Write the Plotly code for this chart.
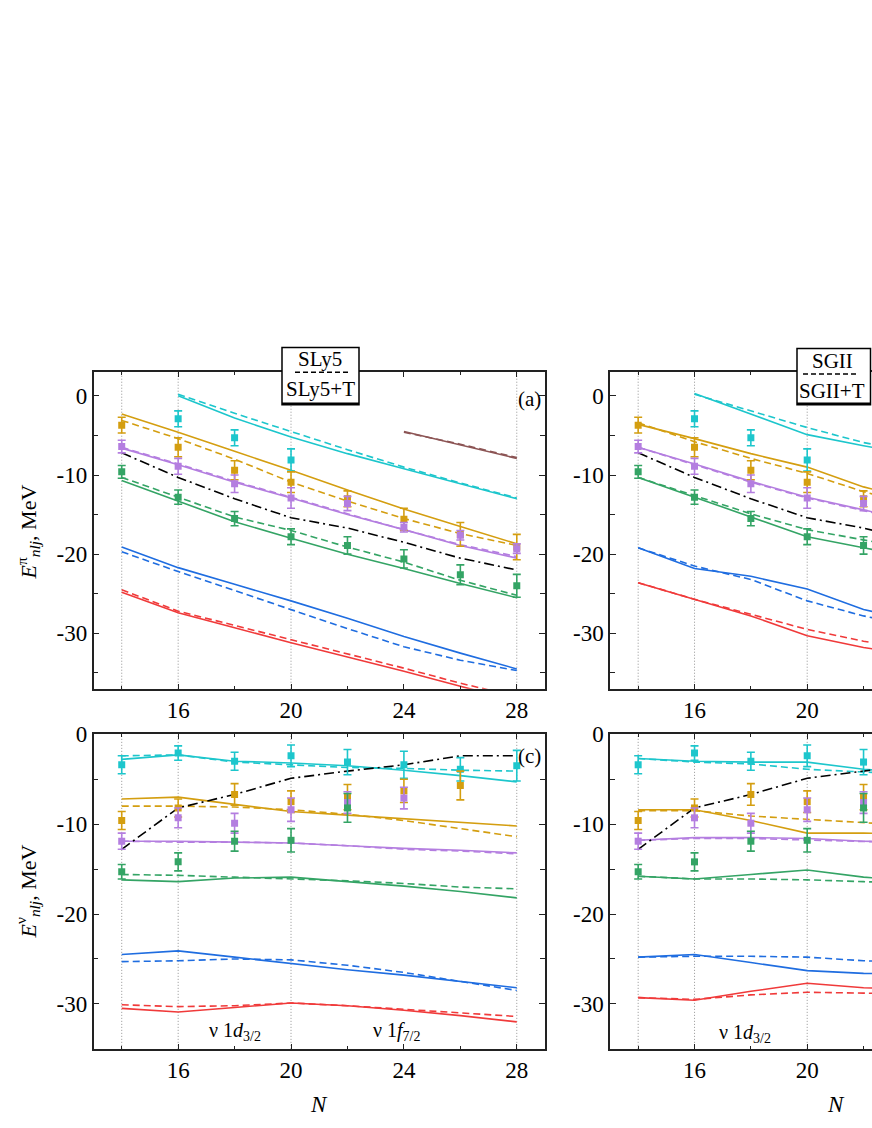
import plotly.graph_objects as go

FONT = '"Liberation Serif", "Times New Roman", Times, serif'

# neutron numbers
N_all = [14, 16, 18, 20, 22, 24, 26, 28]
N_cyan = [16, 18, 20, 22, 24, 26, 28]
N_brown = [24, 26, 28]
N_right = [14, 16, 18, 20, 22, 24]
N_right_cyan = [16, 18, 20, 22, 24]
magic_numbers = [14, 16, 20, 28]

# tick labels
x_tickvals = [16, 20, 24, 28]
x_ticktext = ["16", "20", "24", "28"]
y_tickvals = [-30, -20, -10, 0]
y_ticktext = ["-30", "-20", "-10", "0"]

# colours of the levels
c_cyan = "#1dc6cc"
c_gold = "#d49e10"
c_purple = "#b47ee0"
c_green = "#34a465"
c_blue = "#1f6de0"
c_red = "#f03a3a"
c_brown = "#8c5555"

# ---- (a) protons, SLy5 (dashed) / SLy5+T (solid)
a_cyan_T = [0.0, -2.8, -5.2, -7.3, -9.2, -11.1, -13.0]
a_cyan = [0.2, -2.2, -4.5, -6.8, -9.0, -11.0, -12.9]
a_gold_T = [-2.3, -4.6, -7.0, -9.4, -11.9, -14.3, -16.5, -18.7]
a_gold = [-3.1, -5.4, -8.0, -10.9, -13.3, -15.5, -17.4, -18.9]
a_purple_T = [-6.6, -8.7, -10.9, -12.9, -15.0, -16.9, -18.9, -20.5]
a_purple = [-6.5, -8.6, -10.8, -12.8, -14.9, -16.9, -18.8, -20.3]
a_green_T = [-10.7, -13.3, -15.9, -18.0, -20.0, -21.8, -23.7, -25.5]
a_green = [-10.3, -12.8, -15.3, -17.0, -19.1, -21.0, -23.3, -25.2]
a_blue_T = [-19.1, -21.7, -23.8, -25.9, -28.1, -30.4, -32.5, -34.5]
a_blue = [-19.7, -22.2, -24.6, -27.0, -29.4, -31.7, -33.4, -34.7]
a_red_T = [-24.8, -27.4, -29.3, -31.2, -33.0, -34.8, -36.7, -38.5]
a_red = [-24.5, -27.2, -29.0, -30.8, -32.6, -34.4, -36.3, -38.0]
a_brown_T = [-4.5, -6.2, -7.9]
a_brown = [-4.6, -6.1, -7.8]

# ---- (b) protons, SGII (dashed) / SGII+T (solid)
b_cyan_T = [0.3, -2.3, -4.9, -6.3, -7.6]
b_cyan = [0.2, -1.9, -4.0, -5.9, -7.2]
b_gold_T = [-3.6, -5.4, -7.3, -9.0, -11.5, -13.3]
b_gold = [-3.4, -5.8, -7.9, -9.8, -12.1, -14.0]
b_purple_T = [-6.5, -8.6, -10.8, -12.8, -14.4, -16.0]
b_purple = [-6.5, -8.7, -10.9, -12.9, -14.5, -16.1]
b_green_T = [-10.3, -12.8, -15.3, -17.8, -19.2, -20.5]
b_green = [-10.3, -12.6, -14.9, -16.9, -18.2, -19.5]
b_blue_T = [-19.2, -21.8, -22.8, -24.4, -27.0, -28.5]
b_blue = [-19.2, -21.5, -23.2, -25.9, -27.8, -29.3]
b_red_T = [-23.6, -25.7, -27.8, -30.3, -31.8, -32.8]
b_red = [-23.6, -25.7, -27.6, -29.5, -31.0, -32.2]

# ---- (c) neutrons, SLy5 / SLy5+T
c_cyan_T = [-2.8, -2.3, -3.0, -3.2, -3.5, -4.0, -4.6, -5.3]
c_cyan_ = [-2.4, -2.3, -3.1, -3.4, -3.7, -3.8, -4.0, -4.1]
c_gold_T = [-7.2, -7.0, -7.8, -8.6, -9.0, -9.4, -9.8, -10.2]
c_gold_ = [-8.0, -8.0, -8.1, -8.4, -8.9, -9.6, -10.5, -11.4]
c_purple_T = [-11.9, -11.9, -12.0, -12.1, -12.4, -12.7, -12.9, -13.2]
c_purple_ = [-11.9, -12.0, -12.0, -12.1, -12.4, -12.8, -13.0, -13.3]
c_green_T = [-16.2, -16.4, -16.0, -15.9, -16.4, -16.9, -17.5, -18.2]
c_green_ = [-15.6, -15.7, -15.9, -16.1, -16.3, -16.6, -17.0, -17.2]
c_blue_T = [-24.5, -24.1, -24.8, -25.5, -26.2, -26.8, -27.5, -28.2]
c_blue_ = [-25.3, -25.2, -25.0, -25.1, -25.7, -26.5, -27.5, -28.5]
c_red_T = [-30.5, -30.9, -30.4, -29.9, -30.2, -30.7, -31.3, -32.0]
c_red_ = [-30.1, -30.3, -30.2, -29.9, -30.2, -30.6, -31.0, -31.4]

# ---- (d) neutrons, SGII / SGII+T
d_cyan_T = [-2.7, -3.0, -3.1, -3.1, -3.9, -4.3]
d_cyan = [-2.7, -3.1, -3.3, -3.9, -4.2, -4.5]
d_gold_T = [-8.4, -8.4, -9.6, -11.0, -11.0, -11.1]
d_gold = [-8.5, -8.5, -9.1, -9.5, -9.9, -10.2]
d_purple_T = [-11.8, -11.5, -11.5, -11.6, -11.9, -12.0]
d_purple = [-11.8, -11.6, -11.6, -11.8, -12.0, -12.1]
d_green_T = [-15.8, -16.1, -15.6, -15.1, -15.9, -16.3]
d_green = [-15.8, -16.1, -16.1, -16.2, -16.4, -16.6]
d_blue_T = [-24.8, -24.5, -25.4, -26.3, -26.6, -26.7]
d_blue = [-24.8, -24.7, -24.7, -24.8, -25.2, -25.4]
d_red_T = [-29.3, -29.6, -28.6, -27.7, -28.2, -28.4]
d_red = [-29.3, -29.5, -29.0, -28.7, -28.8, -28.9]

# Fermi levels (dash-dot)
fermi_p = [-7.2, -10.3, -13.0, -15.4, -16.7, -18.5, -20.5, -22.0]
fermi_n = [-12.8, -8.2, -6.7, -4.9, -4.1, -3.4, -2.4, -2.4]

# experimental single-particle energies with errors
N_exp_p_cyan = [16, 18, 20]
exp_p_cyan = [-2.9, -5.3, -8.1]
err_p_cyan = [1.0, 1.0, 1.4]
exp_p_gold = [-3.7, -6.5, -9.4, -10.9, -13.0, -15.6, -17.5, -19.1]
err_p_gold = [1.0, 1.2, 1.2, 1.3, 1.0, 1.4, 1.5, 1.6]
exp_p_purple = [-6.4, -8.9, -11.1, -12.9, -13.6, -16.6, -17.6, -19.3]
err_p_purple = [0.8, 1.0, 1.1, 1.3, 0.9, 0.6, 0.6, 0.6]
exp_p_green = [-9.6, -12.8, -15.5, -17.8, -18.9, -20.6, -22.6, -24.0]
err_p_green = [0.8, 0.9, 0.9, 1.0, 1.1, 1.15, 1.25, 1.45]

exp_n_cyan = [-3.4, -2.1, -3.0, -2.4, -3.1, -3.4, -3.9, -3.5]
err_n_cyan = [1.0, 0.8, 1.0, 1.2, 1.4, 1.5, 1.3, 1.7]
N_exp_n_gold = [14, 16, 18, 20, 22, 24, 26]
exp_n_gold = [-9.6, -8.2, -6.7, -7.5, -7.0, -6.3, -5.7]
err_n_gold = [1.0, 1.0, 1.2, 1.2, 1.4, 1.3, 1.6]
N_exp_n_purple = [14, 16, 18, 20, 22, 24]
exp_n_purple = [-11.9, -9.3, -9.9, -8.4, -7.6, -7.1]
err_n_purple = [0.9, 1.1, 1.1, 1.3, 1.2, 1.2]
N_exp_n_green = [14, 16, 18, 20, 22]
exp_n_green = [-15.3, -14.2, -11.9, -11.8, -8.2]
err_n_green = [0.8, 1.0, 1.1, 1.3, 1.6]

W, H = 872, 1128


def px(x):
    return x / W


def py(y):
    return 1 - y / H


fig = go.Figure()


def add_levels(xa, ya, levels, fermi):
    for color, xs, solid, dashed in levels:
        fig.add_trace(go.Scatter(x=xs, y=dashed, mode="lines", xaxis=xa, yaxis=ya,
                                 line=dict(color=color, width=1.6, dash="7px,4px"),
                                 showlegend=False, hoverinfo="skip"))
        fig.add_trace(go.Scatter(x=xs, y=solid, mode="lines", xaxis=xa, yaxis=ya,
                                 line=dict(color=color, width=1.6),
                                 showlegend=False, hoverinfo="skip"))
    fig.add_trace(go.Scatter(x=N_all, y=fermi, mode="lines", xaxis=xa, yaxis=ya,
                             line=dict(color="black", width=1.6, dash="10px,4px,2px,4px"),
                             showlegend=False, hoverinfo="skip"))


def add_exp(xa, ya, points):
    for color, xs, ys, errs in points:
        fig.add_trace(go.Scatter(x=xs, y=ys, mode="markers", xaxis=xa, yaxis=ya,
                                 marker=dict(symbol="square", size=7, color=color),
                                 error_y=dict(type="data", array=errs, color=color,
                                              thickness=1.6, width=4),
                                 showlegend=False))


levels_a = [
    (c_cyan, N_cyan, a_cyan_T, a_cyan),
    (c_gold, N_all, a_gold_T, a_gold),
    (c_purple, N_all, a_purple_T, a_purple),
    (c_green, N_all, a_green_T, a_green),
    (c_blue, N_all, a_blue_T, a_blue),
    (c_red, N_all, a_red_T, a_red),
    (c_brown, N_brown, a_brown_T, a_brown),
]
levels_b = [
    (c_cyan, N_right_cyan, b_cyan_T, b_cyan),
    (c_gold, N_right, b_gold_T, b_gold),
    (c_purple, N_right, b_purple_T, b_purple),
    (c_green, N_right, b_green_T, b_green),
    (c_blue, N_right, b_blue_T, b_blue),
    (c_red, N_right, b_red_T, b_red),
]
levels_c = [
    (c_cyan, N_all, c_cyan_T, c_cyan_),
    (c_gold, N_all, c_gold_T, c_gold_),
    (c_purple, N_all, c_purple_T, c_purple_),
    (c_green, N_all, c_green_T, c_green_),
    (c_blue, N_all, c_blue_T, c_blue_),
    (c_red, N_all, c_red_T, c_red_),
]
levels_d = [
    (c_cyan, N_right, d_cyan_T, d_cyan),
    (c_gold, N_right, d_gold_T, d_gold),
    (c_purple, N_right, d_purple_T, d_purple),
    (c_green, N_right, d_green_T, d_green),
    (c_blue, N_right, d_blue_T, d_blue),
    (c_red, N_right, d_red_T, d_red),
]
exp_p = [
    (c_cyan, N_exp_p_cyan, exp_p_cyan, err_p_cyan),
    (c_gold, N_all, exp_p_gold, err_p_gold),
    (c_purple, N_all, exp_p_purple, err_p_purple),
    (c_green, N_all, exp_p_green, err_p_green),
]
exp_n = [
    (c_cyan, N_all, exp_n_cyan, err_n_cyan),
    (c_gold, N_exp_n_gold, exp_n_gold, err_n_gold),
    (c_purple, N_exp_n_purple, exp_n_purple, err_n_purple),
    (c_green, N_exp_n_green, exp_n_green, err_n_green),
]

add_levels("x", "y", levels_a, fermi_p)
add_levels("x2", "y2", levels_b, fermi_p)
add_levels("x3", "y3", levels_c, fermi_n)
add_levels("x4", "y4", levels_d, fermi_n)
add_exp("x", "y", exp_p)
add_exp("x2", "y2", exp_p)
add_exp("x3", "y3", exp_n)
add_exp("x4", "y4", exp_n)

# axes
left_dom = [px(93.5), px(545)]
right_dom = [px(610), 1.0]
top_dom = [py(684), py(364)]
bot_dom = [py(1048), py(730)]
xr_left = [13, 29]
xr_right = [13, 22.3]

tickfont = dict(family=FONT, size=23, color="black")


def xaxis(dom, rng, anchor):
    return dict(domain=dom, range=rng, anchor=anchor, showgrid=False, zeroline=False,
                showline=True, linecolor="#222", linewidth=1.5, mirror="ticks",
                ticks="inside", ticklen=5, tickwidth=1.2, tickcolor="#222",
                tickmode="array", tickvals=x_tickvals, ticktext=x_ticktext,
                tickfont=tickfont, ticklabelstandoff=0,
                minor=dict(tickmode="linear", tick0=0, dtick=2, ticks="inside",
                           ticklen=3, tickwidth=1.2, tickcolor="#222"))


def yaxis(dom, rng, anchor, mirror):
    return dict(domain=dom, range=rng, anchor=anchor, showgrid=False, zeroline=False,
                showline=True, linecolor="#222", linewidth=1.5, mirror=mirror,
                ticks="inside", ticklen=6, tickwidth=1.2, tickcolor="#222",
                tickmode="array", tickvals=y_tickvals, ticktext=y_ticktext,
                tickfont=tickfont,
                minor=dict(tickmode="linear", tick0=0, dtick=5, ticks="inside",
                           ticklen=5, tickwidth=1.2, tickcolor="#222"))


fig.update_layout(
    width=W, height=H,
    margin=dict(l=0, r=0, t=0, b=0),
    paper_bgcolor="white", plot_bgcolor="white",
    font=dict(family=FONT, color="black"),
    xaxis=xaxis(left_dom, xr_left, "y"),
    yaxis=yaxis(top_dom, [-37, 3], "x", "ticks"),
    xaxis2=xaxis(right_dom, xr_right, "y2"),
    yaxis2=yaxis(top_dom, [-37, 3], "x2", False),
    xaxis3=xaxis(left_dom, xr_left, "y3"),
    yaxis3=yaxis(bot_dom, [-35, 0], "x3", "ticks"),
    xaxis4=xaxis(right_dom, xr_right, "y4"),
    yaxis4=yaxis(bot_dom, [-35, 0], "x4", False),
)

# dotted guide lines at the magic numbers
shapes = []
for xa, ya, rng in [("x", "y", xr_left), ("x2", "y2", xr_right),
                    ("x3", "y3", xr_left), ("x4", "y4", xr_right)]:
    for n in magic_numbers:
        if rng[0] < n < rng[1]:
            shapes.append(dict(type="line", xref=xa, yref=ya + " domain", x0=n, x1=n,
                               y0=0, y1=1, layer="below",
                               line=dict(color="#888", width=0.9, dash="1px,2px")))


# model boxes
def model_box(x0, x1, y0, y1, dash_x0, dash_x1, dash_y):
    return [
        dict(type="rect", xref="paper", yref="paper", x0=px(x0), x1=px(x1),
             y0=py(y1), y1=py(y0), fillcolor="white", line=dict(color="black", width=1.5)),
        dict(type="line", xref="paper", yref="paper", x0=px(dash_x0), x1=px(dash_x1),
             y0=py(dash_y), y1=py(dash_y), line=dict(color="black", width=1.5, dash="5px,3px")),
        dict(type="line", xref="paper", yref="paper", x0=px(x0), x1=px(x1),
             y0=py(y1 - 1), y1=py(y1 - 1), line=dict(color="black", width=2.5)),
    ]


shapes += model_box(282, 359, 339, 397, 295, 348, 364)
shapes += model_box(797, 870.5, 340, 397, 803, 858, 366)
fig.update_layout(shapes=shapes)

ann = []


def text(x, y, s, size=20, angle=0):
    ann.append(dict(x=px(x), y=py(y), xref="paper", yref="paper", text=s, showarrow=False,
                    font=dict(family=FONT, size=size, color="black"), textangle=angle,
                    xanchor="center", yanchor="middle"))


text(320, 351, "SLy5", size=21)
text(320, 381, "SLy5+T", size=21)
text(832, 353, "SGII", size=21)
text(832, 383, "SGII+T", size=21)
text(529, 391, "(a)", size=21)
text(529, 752, "(c)", size=21)
text(235, 1030, "ν 1<i>d</i><sub>3/2</sub>", size=20)
text(397, 1030, "ν 1<i>f</i><sub>7/2</sub>", size=20)
text(745, 1032, "ν 1<i>d</i><sub>3/2</sub>", size=20)
text(28, 526, "<i>E</i><sup>π</sup><sub><i>nlj</i></sub>, MeV", size=22, angle=-90)
text(28, 889, "<i>E</i><sup>ν</sup><sub><i>nlj</i></sub>, MeV", size=22, angle=-90)
text(319, 1104, "<i>N</i>", size=23)
text(836, 1104, "<i>N</i>", size=23)
fig.update_layout(annotations=ann)

# the page body has a default margin; drop it so the figure sits at the window origin
fig.write_html("out.html", config={"displayModeBar": False},
               post_script="document.body.style.margin='0';document.body.style.overflow='hidden';")
